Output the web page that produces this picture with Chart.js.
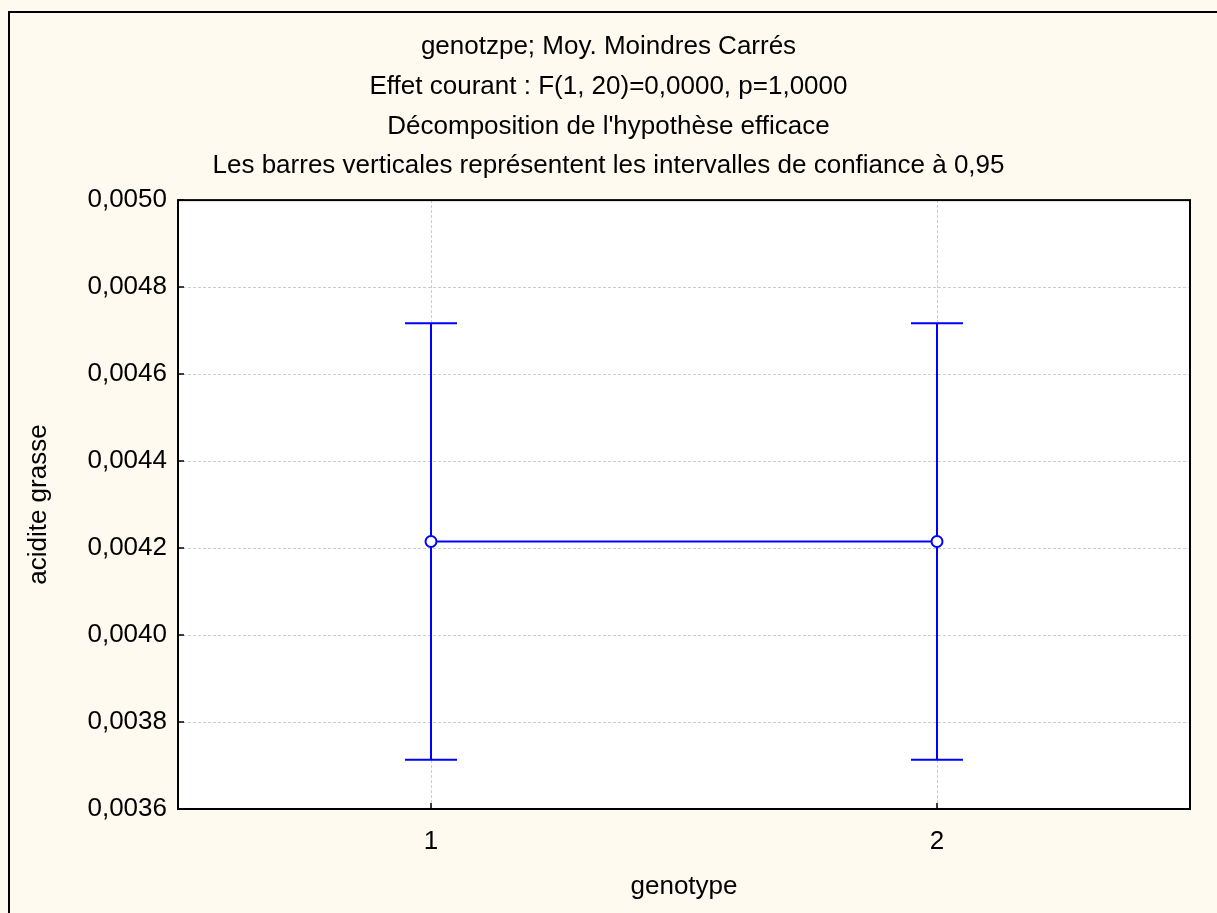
<!DOCTYPE html>
<html>
<head>
<meta charset="utf-8">
<script src="https://cdn.jsdelivr.net/npm/chart.js@4.4.0/dist/chart.umd.min.js"></script>
<style>
  body { margin: 0; background: #fffaef; }
  canvas { display: block; }
</style>
</head>
<body>
<canvas id="grafico" width="1217" height="913"></canvas>
<script>
// valeurs
const categories = [1, 2];
const moyennes = [0.004215, 0.004215];
const icBas = [0.003713, 0.003713];
const icHaut = [0.004717, 0.004717];
const yTicks = [0.0036, 0.0038, 0.0040, 0.0042, 0.0044, 0.0046, 0.0048, 0.0050];

const titre = [
  "genotzpe; Moy. Moindres Carrés",
  "Effet courant : F(1, 20)=0,0000, p=1,0000",
  "Décomposition de l'hypothèse efficace",
  "Les barres verticales représentent les intervalles de confiance à 0,95"
];

const police = "'Liberation Sans', Arial, sans-serif";
const bleu = '#0000ff';

// fond crème, cadre extérieur, zone blanche
const fondPlugin = {
  id: 'fond',
  beforeDraw(chart) {
    const ctx = chart.ctx;
    const a = chart.chartArea;
    ctx.save();
    ctx.fillStyle = '#fffaef';
    ctx.fillRect(0, 0, chart.width, chart.height);
    ctx.strokeStyle = '#000';
    ctx.lineWidth = 2;
    ctx.strokeRect(9, 12, chart.width + 20, chart.height + 20);
    ctx.fillStyle = '#fff';
    ctx.fillRect(a.left, a.top, a.right - a.left, a.bottom - a.top);
    ctx.restore();
  },
  afterDraw(chart) {
    const ctx = chart.ctx;
    const a = chart.chartArea;
    const sx = chart.scales.x, sy = chart.scales.y;
    ctx.save();
    ctx.strokeStyle = '#000';
    ctx.lineWidth = 1.5;
    ctx.beginPath();
    yTicks.forEach(v => {
      const y = sy.getPixelForValue(v);
      ctx.moveTo(a.left, y);
      ctx.lineTo(a.left + 6, y);
    });
    categories.forEach(v => {
      const x = sx.getPixelForValue(v);
      ctx.moveTo(x, a.bottom);
      ctx.lineTo(x, a.bottom - 6);
    });
    ctx.stroke();
    ctx.lineWidth = 2;
    ctx.strokeRect(a.left, a.top, a.right - a.left, a.bottom - a.top);
    ctx.restore();
  }
};

// barres d'erreur (intervalles de confiance)
const barresPlugin = {
  id: 'barres',
  beforeDatasetsDraw(chart) {
    const ctx = chart.ctx;
    const sx = chart.scales.x, sy = chart.scales.y;
    ctx.save();
    ctx.strokeStyle = bleu;
    ctx.lineWidth = 2;
    ctx.beginPath();
    categories.forEach((c, i) => {
      const x = sx.getPixelForValue(c);
      const yb = sy.getPixelForValue(icBas[i]);
      const yh = sy.getPixelForValue(icHaut[i]);
      ctx.moveTo(x, yb); ctx.lineTo(x, yh);
      ctx.moveTo(x - 26, yh); ctx.lineTo(x + 26, yh);
      ctx.moveTo(x - 26, yb); ctx.lineTo(x + 26, yb);
    });
    ctx.stroke();
    ctx.restore();
  }
};

Chart.defaults.font.family = police;
Chart.defaults.font.size = 26;
Chart.defaults.color = '#000';

const grille = { color: '#cccccc', drawTicks: false, lineWidth: 1 };

new Chart(document.getElementById('grafico'), {
  type: 'line',
  data: {
    datasets: [{
      label: 'acidite grasse',
      data: categories.map((c, i) => ({ x: c, y: moyennes[i] })),
      borderColor: bleu,
      borderWidth: 2,
      pointRadius: 5.5,
      pointBackgroundColor: '#fff',
      pointBorderColor: bleu,
      pointBorderWidth: 2,
      tension: 0
    }]
  },
  options: {
    responsive: false,
    animation: false,
    layout: { padding: 0 },
    plugins: {
      legend: { display: false },
      tooltip: { enabled: false },
      title: {
        display: true,
        text: titre,
        color: '#000',
        font: { size: 26, weight: 'normal', lineHeight: 1.53 },
        padding: { top: 27, bottom: 14 }
      }
    },
    scales: {
      x: {
        type: 'linear',
        min: 0.5,
        max: 2.5,
        afterBuildTicks: s => { s.ticks = categories.map(v => ({ value: v })); },
        afterFit: s => { s.height = 104; },
        ticks: { padding: 17, callback: v => String(v) },
        grid: grille,
        border: { display: false, dash: [3, 2] },
        title: { display: true, text: 'genotype', padding: { top: 0, bottom: 11 } }
      },
      y: {
        min: 0.0036,
        max: 0.0050,
        afterBuildTicks: s => { s.ticks = yTicks.map(v => ({ value: v })); },
        afterFit: s => { s.width = 178; },
        ticks: { padding: 11, callback: v => v.toFixed(4).replace('.', ',') },
        grid: grille,
        border: { display: false, dash: [3, 2] },
        title: { display: true, text: 'acidite grasse', padding: { top: 23, bottom: 0 } }
      },
      marge: {
        type: 'linear',
        position: 'right',
        afterFit: s => { s.width = 27; },
        ticks: { display: false },
        grid: { display: false },
        border: { display: false }
      }
    }
  },
  plugins: [fondPlugin, barresPlugin]
});
</script>
</body>
</html>
